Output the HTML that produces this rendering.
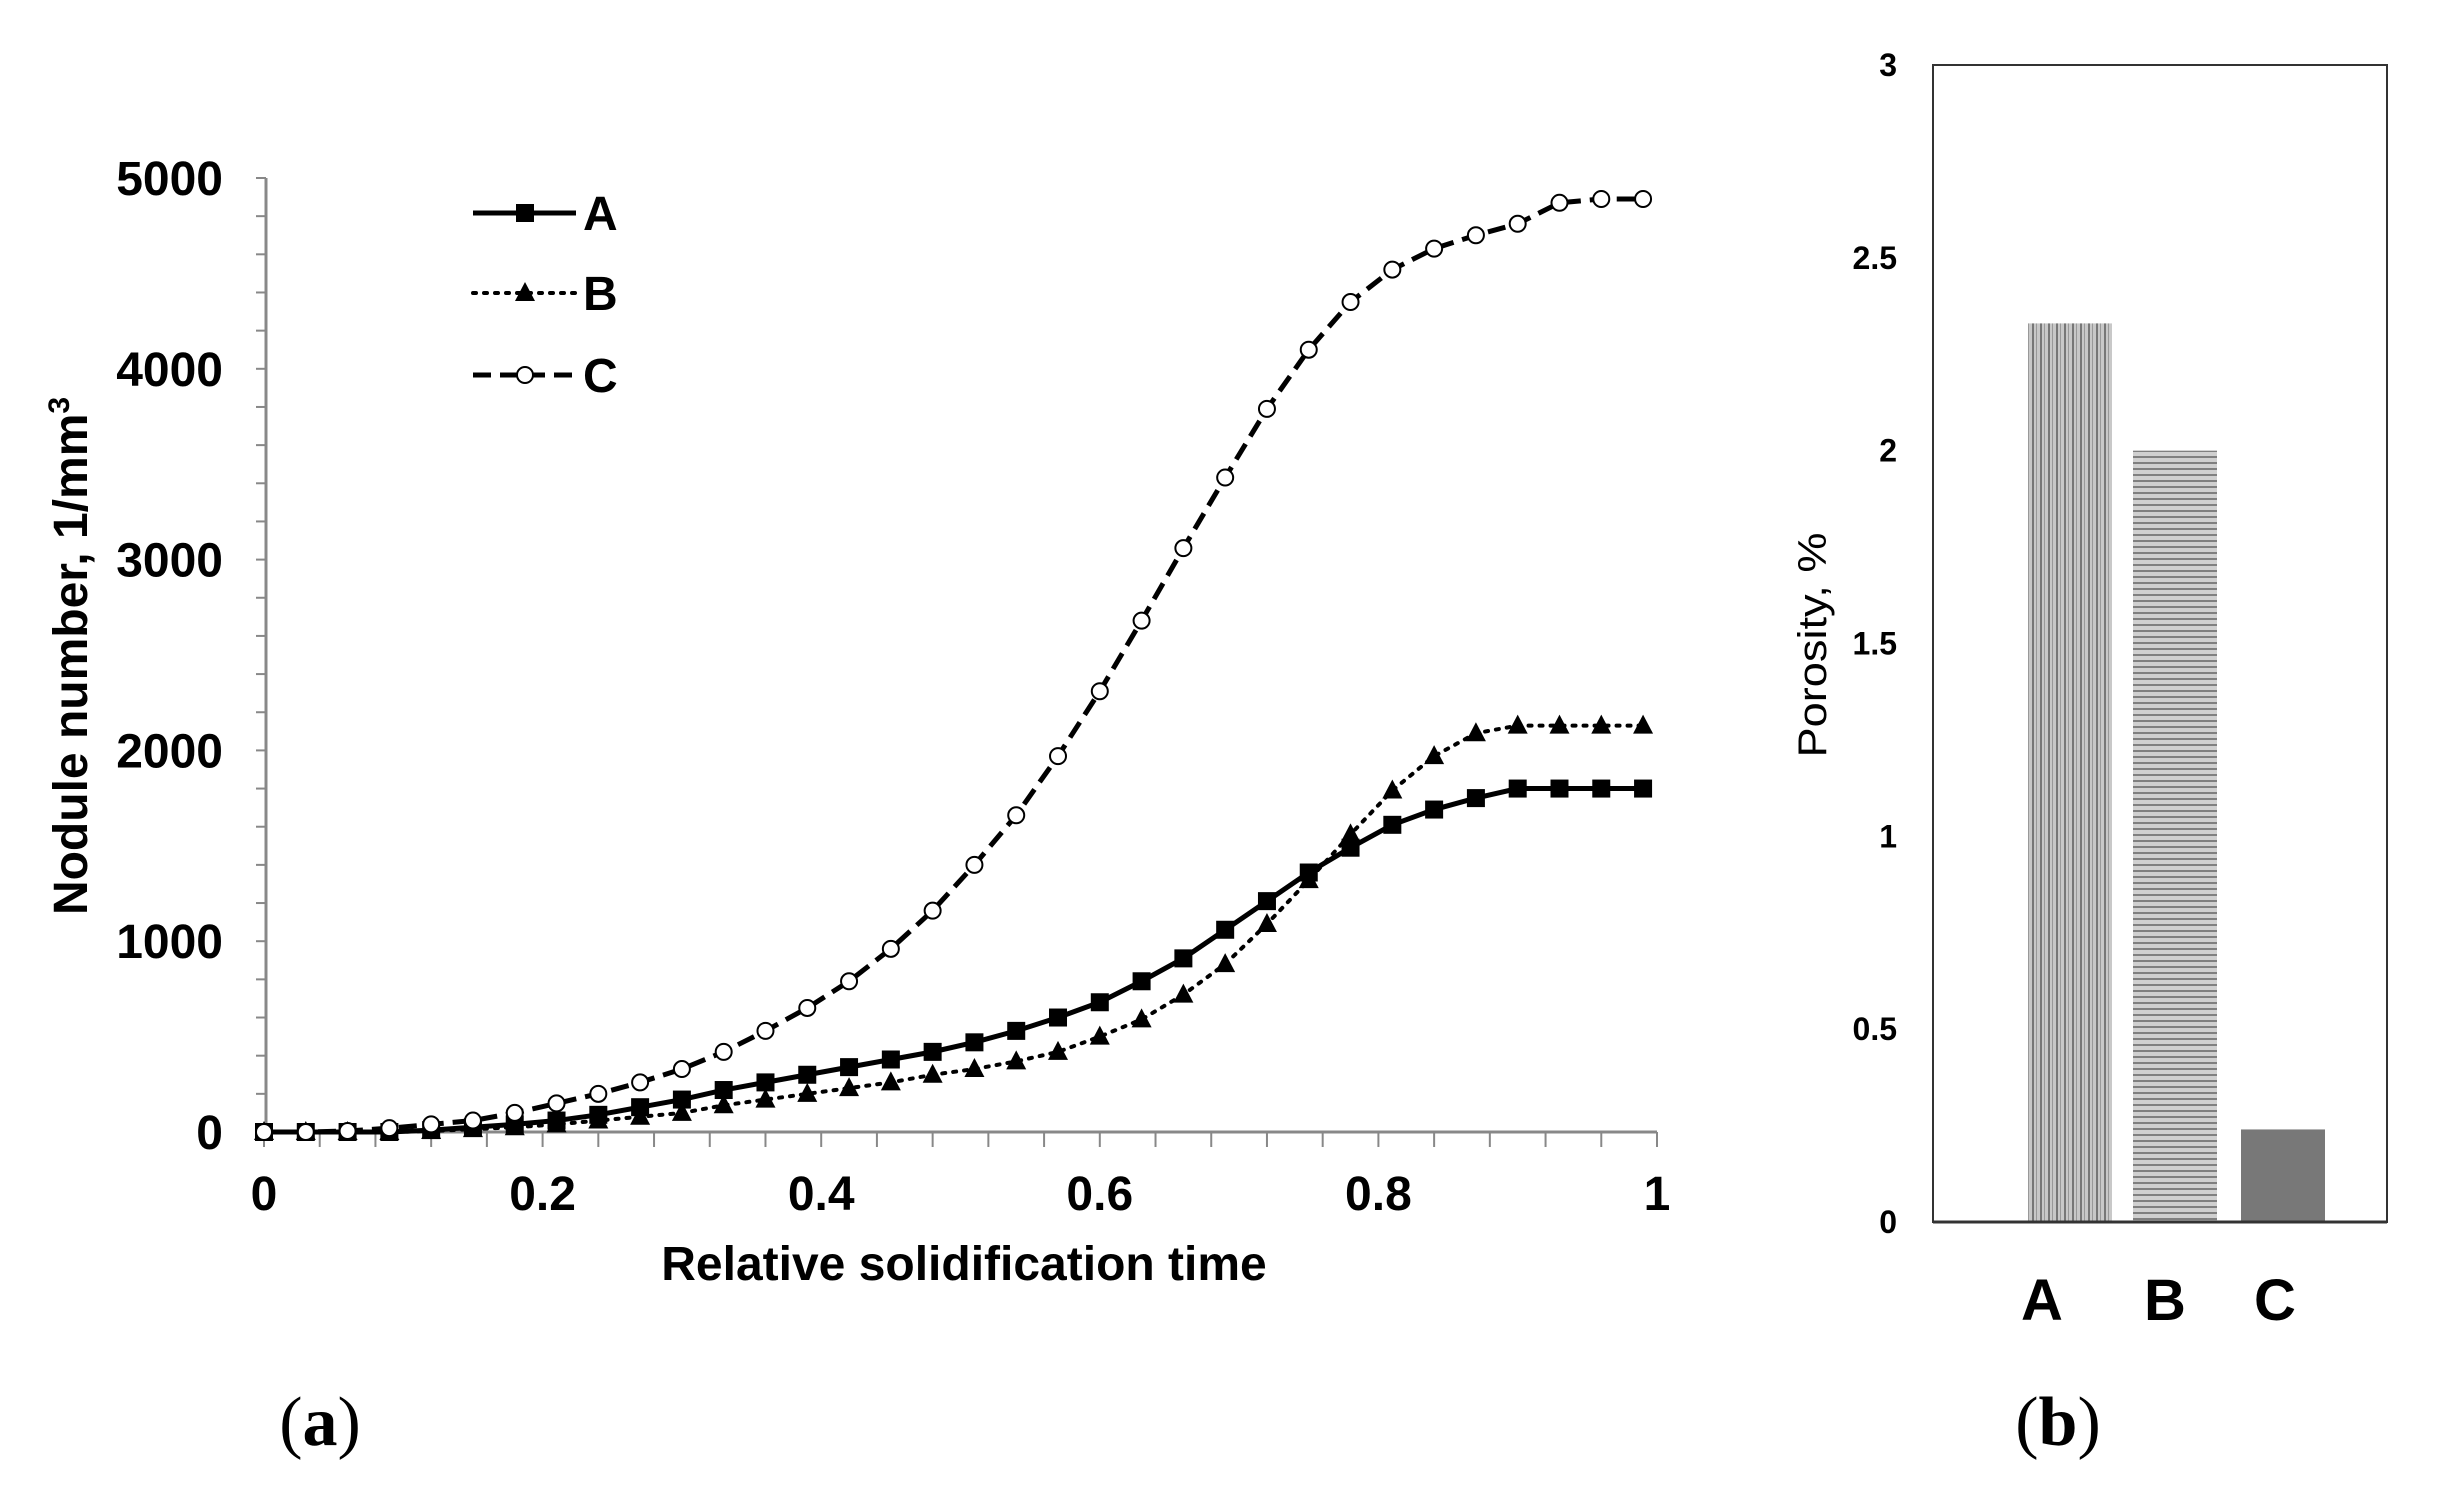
<!DOCTYPE html>
<html><head><meta charset="utf-8"><style>
html,body{margin:0;padding:0;background:#fff;}
svg{display:block;font-family:"Liberation Sans",Arial,sans-serif;}
</style></head><body>
<svg id="fig" width="2437" height="1496" viewBox="0 0 2437 1496" xmlns="http://www.w3.org/2000/svg">
<defs>
<pattern id="vstripe" width="8" height="10" patternUnits="userSpaceOnUse">
<rect width="8" height="10" fill="#c8c8c8"/><rect x="0" width="2" height="10" fill="#777"/><rect x="4" width="1" height="10" fill="#999"/>
</pattern>
<pattern id="hstripe" width="10" height="6" patternUnits="userSpaceOnUse">
<rect width="10" height="6" fill="#d0d0d0"/><rect y="0" width="10" height="2" fill="#808080"/>
</pattern>
</defs>
<g id="left"></g>
<g id="right"></g>
<text x="320" y="1445" text-anchor="middle" font-family="Liberation Serif,serif" font-size="70">(<tspan font-weight="bold">a</tspan>)</text>
<text x="2058" y="1445" text-anchor="middle" font-family="Liberation Serif,serif" font-size="70">(<tspan font-weight="bold">b</tspan>)</text>
</svg>
<script>
const xVals=[0,0.03,0.06,0.09,0.12,0.15,0.18,0.21,0.24,0.27,0.3,0.33,0.36,0.39,0.42,0.45,0.48,0.51,0.54,0.57,0.6,0.63,0.66,0.69,0.72,0.75,0.78,0.81,0.84,0.87,0.9,0.93,0.96,0.99];
const seriesA=[0,0,0,0,10,25,40,60,90,130,170,220,260,300,340,380,420,470,530,600,680,790,910,1060,1210,1360,1490,1610,1690,1750,1800,1800,1800,1800];
const seriesB=[0,0,0,0,5,15,25,40,60,80,100,140,170,200,230,260,300,330,370,420,500,590,720,880,1090,1320,1560,1790,1970,2090,2130,2130,2130,2130];
const seriesC=[0,0,5,20,40,60,100,150,200,260,330,420,530,650,790,960,1160,1400,1660,1970,2310,2680,3060,3430,3790,4100,4350,4520,4630,4700,4760,4870,4890,4890];
const yTicks=[0,1000,2000,3000,4000,5000];
const xTicks=[0,0.2,0.4,0.6,0.8,1];
const barCats=["A","B","C"];
const barVals=[2.33,2.0,0.24];
const barTicks=[0,0.5,1,1.5,2,2.5,3];

const NS="http://www.w3.org/2000/svg";
function mk(parent,tag,attrs,text){const e=document.createElementNS(NS,tag);for(const k in attrs)e.setAttribute(k,attrs[k]);if(text!==undefined)e.textContent=text;parent.appendChild(e);return e;}

// left chart
const L=document.getElementById('left');
const X0=264,X1=1657,Y0=1132,Y5=178;
const sx=v=>X0+(X1-X0)*v;
const sy=v=>Y0-(Y0-Y5)*v/5000;
let e;
e=mk(L,'line',{x1:X0+2,y1:Y5,x2:X0+2,y2:Y0,stroke:'#888','stroke-width':3});

e=mk(L,'line',{x1:X0,y1:Y0,x2:X1,y2:Y0,stroke:'#888','stroke-width':3});

for(let v=0;v<=5000;v+=200){mk(L,'line',{x1:X0-8,y1:sy(v),x2:X0+2,y2:sy(v),stroke:'#888','stroke-width':2});}
for(let i=0;i<=25;i++){const v=i*0.04;mk(L,'line',{x1:sx(v),y1:Y0,x2:sx(v),y2:Y0+15,stroke:'#888','stroke-width':2});}
yTicks.forEach(v=>{e=mk(L,'text',{x:223,y:sy(v)+17,'text-anchor':'end','font-size':48,'font-weight':'bold'},v);
});
xTicks.forEach(v=>{e=mk(L,'text',{x:sx(v),y:1210,'text-anchor':'middle','font-size':48,'font-weight':'bold'},v);
});
e=mk(L,'text',{x:964,y:1280,'text-anchor':'middle','font-size':48,'font-weight':'bold'},'Relative solidification time');

e=mk(L,'text',{x:0,y:0,'text-anchor':'middle','font-size':48,'font-weight':'bold',transform:'translate(87,656) rotate(-90)'});
e.innerHTML='Nodule number, 1/mm<tspan dy="-18" font-size="30">3</tspan>';


function marker(g,type,x,y){
 if(type==='A')return mk(g,'rect',{x:x-9,y:y-9,width:18,height:18,fill:'#000'});
 if(type==='B')return mk(g,'path',{d:`M${x},${y-11} L${x+10},${y+8} L${x-10},${y+8}Z`,fill:'#000'});
 return mk(g,'circle',{cx:x,cy:y,r:8,fill:'#fff',stroke:'#000','stroke-width':2});
}
const styles={A:{dash:'',w:5},B:{dash:'3 8',w:4,cap:'round'},C:{dash:'18 9',w:5}};
function drawSeries(name,vals){
 const g=mk(L,'g',{});
 
 const pts=xVals.map((x,i)=>sx(x)+','+sy(vals[i])).join(' ');
 const st=styles[name];
 mk(g,'polyline',{points:pts,fill:'none',stroke:'#000','stroke-width':st.w,'stroke-dasharray':st.dash,'stroke-linecap':st.cap||'butt'});
 xVals.forEach((x,i)=>{const m=marker(g,name,sx(x),sy(vals[i]));
  });
}
drawSeries('B',seriesB);drawSeries('A',seriesA);drawSeries('C',seriesC);
// legend
[['A',213],['B',293],['C',375]].forEach(([n,y])=>{
 const g=mk(L,'g',{});
 
 const st=styles[n];
 mk(g,'line',{x1:473,y1:y,x2:576,y2:y,stroke:'#000','stroke-width':st.w,'stroke-dasharray':st.dash,'stroke-linecap':st.cap||'butt'});
 marker(g,n,525,y);
 mk(g,'text',{x:583,y:y+17,'font-size':48,'font-weight':'bold'},n);
});

// right chart
const R=document.getElementById('right');
const RX0=1933,RX1=2387,RY0=1222,RY3=65;
const by=v=>RY0-(RY0-RY3)*v/3;
const barX=[2028,2133,2241],bw=84;
const labelOff=[-28,-10,-8];
const fills=['url(#vstripe)','url(#hstripe)','#787878'];
barVals.forEach((v,i)=>{e=mk(R,'rect',{x:barX[i],y:by(v),width:bw,height:RY0-by(v),fill:fills[i]});
 
 e=mk(R,'text',{x:barX[i]+bw/2+labelOff[i],y:1320,'text-anchor':'middle','font-size':58,'font-weight':'bold'},barCats[i]);
 });
e=mk(R,'rect',{x:RX0,y:RY3,width:RX1-RX0,height:RY0-RY3,fill:'none',stroke:'#333','stroke-width':2});

mk(R,'line',{x1:RX0,y1:RY0,x2:RX1,y2:RY0,stroke:'#333','stroke-width':3});
barTicks.forEach(v=>{e=mk(R,'text',{x:1897,y:by(v)+11,'text-anchor':'end','font-size':32,'font-weight':'bold'},v);
 });
e=mk(R,'text',{x:0,y:0,'text-anchor':'middle','font-size':40,textLength:225,lengthAdjust:'spacingAndGlyphs',transform:'translate(1826,645) rotate(-90)'},'Porosity, %');

</script>
</body></html>
